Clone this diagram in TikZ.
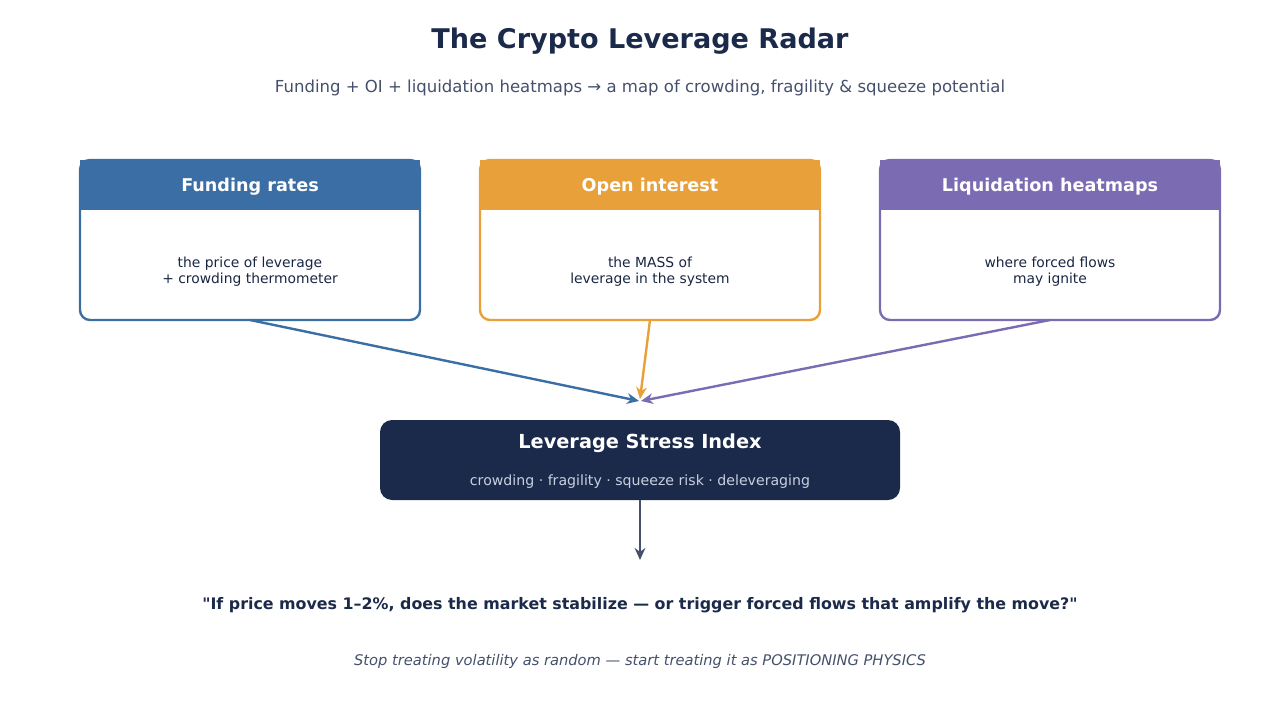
\documentclass[tikz,border=0pt]{standalone}
\usepackage{fontspec}
\setmainfont{DejaVu Sans}[Ligatures=TeXOff]
\usetikzlibrary{arrows.meta}
\definecolor{navy}{HTML}{1B2A4A}
\definecolor{cblue}{HTML}{3A6EA5}
\definecolor{corange}{HTML}{E8A03A}
\definecolor{cpurple}{HTML}{7B6BB3}
\definecolor{slate}{HTML}{44506C}
\definecolor{lightsub}{HTML}{C8D0E0}
\begin{document}
\begin{tikzpicture}[x=0.75pt,y=-0.75pt,
  card/.style={draw=#1,line width=1.8pt,rounded corners=7.5pt},
  htext/.style={text=white,font=\fontsize{13.2}{15}\selectfont\bfseries},
  btext/.style={text=navy!90!black,font=\fontsize{10.4}{12}\selectfont,align=center},
  conn/.style={draw=#1,line width=1.8pt,-{Stealth[length=9pt,width=8pt]}}]
\useasboundingbox (0,0) rectangle (1280,720);
\node[text=navy,font=\fontsize{20.3}{23}\selectfont\bfseries] (title) at (640,41) {The Crypto Leverage Radar};
\node[text=slate,font=\fontsize{12.4}{14}\selectfont] (sub) at (640,87.5) {Funding + OI + liquidation heatmaps → a map of crowding, fragility \& squeeze potential};
\foreach \x/\c/\h/\t/\n in {80/cblue/Funding rates/{the price of leverage\\+ crowding thermometer}/a,
  480/corange/Open interest/{the MASS of\\leverage in the system}/b,
  880/cpurple/Liquidation heatmaps/{where forced flows\\may ignite}/c}{
  \fill[\c,rounded corners=7.5pt] (\x,160) rectangle (\x+340,210);
  \fill[\c] (\x,160) rectangle (\x+340,170);
  \fill[\c] (\x,195) rectangle (\x+340,210);
  \draw[card=\c] (\x,160) rectangle (\x+340,320);
  \node[htext] at (\x+170,186.5) {\h};
  \node[btext] at (\x+170,271.5) {\t};
  \coordinate (\n) at (\x+170,320);
}
\fill[navy,rounded corners=9pt] (380,420) rectangle (900,500);
\node[text=white,font=\fontsize{14.5}{16}\selectfont\bfseries] (lsi) at (640,443.5) {Leverage Stress Index};
\node[text=lightsub,font=\fontsize{10.6}{12}\selectfont] at (640,481.5) {crowding · fragility · squeeze risk · deleveraging};
\coordinate (t1) at (639,401);
\coordinate (t2) at (640,399);
\coordinate (t3) at (641,401);
\coordinate (ds) at (640,500);
\coordinate (de) at (640,560);
\draw[conn=cblue] (a) -- (t1);
\draw[conn=corange] (b) -- (t2);
\draw[conn=cpurple] (c) -- (t3);
\draw[conn=slate] (ds) -- (de);
\node[text=navy,font=\fontsize{11.9}{13}\selectfont\bfseries] (q) at (640,605.5) {"If price moves 1–2\%, does the market stabilize — or trigger forced flows that amplify the move?"};
\node[text=slate,font=\fontsize{11}{12}\selectfont\itshape] (f) at (640,661.5) {Stop treating volatility as random — start treating it as POSITIONING PHYSICS};
\end{tikzpicture}
\end{document}
